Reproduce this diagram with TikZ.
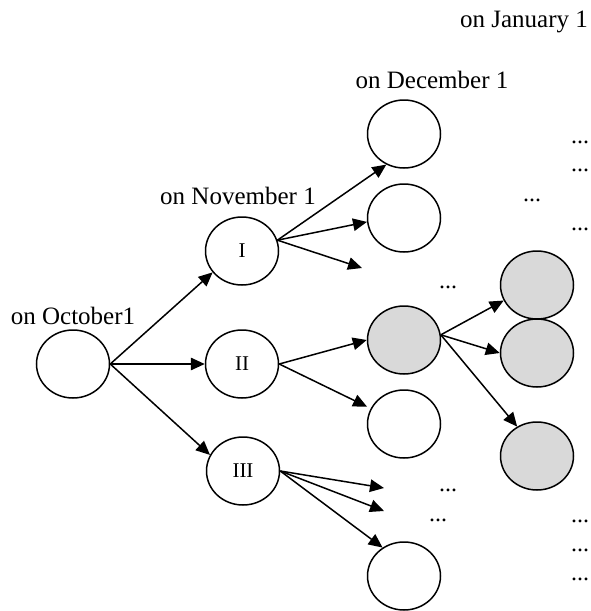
\documentclass[tikz,border=0pt]{standalone}
\usepackage{fontspec}
\setmainfont{Liberation Serif}
\usetikzlibrary{arrows.meta,shapes.geometric}
\definecolor{greyfill}{HTML}{D9D9D9}
\begin{document}
\begin{tikzpicture}[x=1pt,y=-1pt,
  state/.style={ellipse,draw,line width=1.5pt,minimum width=73pt,minimum height=68pt,inner sep=0pt,font=\fontsize{21}{23}\selectfont},
  shaded/.style={state,fill=greyfill},
  lbl/.style={font=\fontsize{25}{28}\selectfont,inner sep=0pt},
  dots/.style={font=\fontsize{24}{26}\selectfont,inner sep=0pt},
  arr/.style={line width=1.5pt,-{Triangle[length=14pt,width=12.5pt]}}]
\useasboundingbox (0,0) rectangle (591,611);
% nodes
\node[state] (root) at (73,364) {};
\node[state] (I) at (242,251) {I};
\node[state] (II) at (242,364) {II};
\node[state] (III) at (243,471) {III};
\node[state] (D1) at (404,134) {};
\node[state] (D2) at (404,218) {};
\node[shaded] (G) at (404,340) {};
\node[state] (W) at (404,424) {};
\node[state] (B) at (404,576) {};
\node[shaded] (R1) at (537,285) {};
\node[shaded] (R2) at (537,353) {};
\node[shaded] (R3) at (537,456) {};
% labels
\node[lbl] (tjan) at (524,22) {on January 1};
\node[lbl] (tdec) at (432,80) {on December 1};
\node[lbl] (tnov) at (238,196) {on November 1};
\node[lbl] (toct) at (73,316) {on October1};
% dots
\node[dots] (p1) at (580,142) {...};
\node[dots] (p2) at (580,170) {...};
\node[dots] (p3) at (532,200) {...};
\node[dots] (p4) at (580,229) {...};
\node[dots] (p5) at (448,287) {...};
\node[dots] (p6) at (448,490) {...};
\node[dots] (p7) at (438,520) {...};
\node[dots] (p8) at (580,521) {...};
\node[dots] (p9) at (580,550) {...};
\node[dots] (p10) at (580,579) {...};
% free ends
\coordinate (fI) at (362,268);
\coordinate (fIIIa) at (384,488);
\coordinate (fIIIb) at (384,511);
% connectors
\draw[arr] (root.east) -- (I.216);
\draw[arr] (root.east) -- (II.west);
\draw[arr] (root.east) -- (III.154);
\draw[arr] (I.17) -- (D1.240);
\draw[arr] (I.17) -- (D2.186);
\draw[arr] (I.17) -- (fI);
\draw[arr] (II.east) -- (G.west);
\draw[arr,shorten >=4pt] (II.east) -- (W.155);
\draw[arr] (III.east) -- (fIIIa);
\draw[arr] (III.east) -- (fIIIb);
\draw[arr] (III.east) -- (B.127);
\draw[arr] (G.8) -- (R1.205);
\draw[arr] (G.8) -- (R2.west);
\draw[arr] (G.8) -- (R3.124);
\end{tikzpicture}
\end{document}
